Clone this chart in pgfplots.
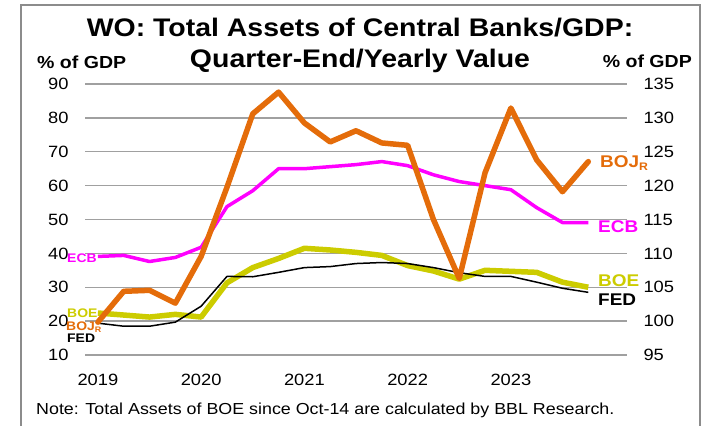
\documentclass[border=0pt]{standalone}
\usepackage{pgfplots}
\usepackage{pgfplotstable}
\pgfplotsset{compat=1.18}
\usepackage{fontspec}
\setmainfont{Liberation Sans}[FakeStretch=1.12]
\definecolor{bojc}{RGB}{228,108,10}
\definecolor{ecbc}{RGB}{255,0,255}
\definecolor{boec}{RGB}{204,204,0}
\definecolor{gridc}{RGB}{160,160,160}
\definecolor{framec}{RGB}{140,140,140}

\pgfplotstableread{
x boe fed ecb
0 22.4 19.4 39.1
1 21.8 18.5 39.4
2 21.2 18.5 37.6
3 22.0 19.7 38.8
4 21.2 24.4 41.8
5 31.3 33.2 53.8
6 35.8 33.1 58.5
7 38.5 34.4 65.0
8 41.5 35.8 65.0
9 41.0 36.1 65.6
10 40.3 37.0 66.2
11 39.4 37.3 67.1
12 36.4 37.0 65.9
13 34.8 35.8 63.2
14 32.4 34.3 61.2
15 35.0 33.2 60.0
16 34.7 33.2 58.8
17 34.4 31.5 53.5
18 31.5 29.7 49.1
19 30.0 28.5 49.1
}\tabL

\pgfplotstableread{
x boj
0 99.85
1 104.4
2 104.55
3 102.65
4 109.55
5 119.75
6 130.6
7 133.8
8 129.25
9 126.45
10 128.1
11 126.3
12 125.95
13 115.0
14 106.3
15 121.9
16 131.45
17 123.8
18 119.1
19 123.55
}\tabR

\newcommand{\tickfont}{\fontsize{16.4}{18}\selectfont}

\begin{document}
\begin{tikzpicture}[x=1bp,y=1bp]
\path[use as bounding box] (0,0) rectangle (706,425);
\begin{scope}
\clip (0,0) rectangle (706,425);
\draw[framec, line width=1.5bp] (21,-10) -- (21,420) -- (700,420) -- (700,-10);
\end{scope}

\pgfplotsset{
  common/.style={
    at={(85bp,70bp)}, anchor=south west,
    scale only axis, width=542bp, height=271bp,
    xmin=-0.5, xmax=20.5,
    axis line style={draw=none},
    major tick length=0pt,
    tick style={draw=none},
    /pgf/number format/assume math mode=true,
    clip=false,
  }
}

\begin{axis}[common,
  ymin=10, ymax=90, ytick={10,20,...,90},
  xtick={0,4,8,12,16}, xticklabels={2019,2020,2021,2022,2023},
  ymajorgrids, major grid style={gridc, line width=1.3bp},
  yticklabel style={font=\tickfont, anchor=east, xshift=-13bp},
  xticklabel style={font=\tickfont, yshift=-16bp},
]
\addplot[boec, line width=5.5bp, line join=round] table[x=x,y=boe]{\tabL};
\addplot[black, line width=1.5bp, line join=round] table[x=x,y=fed]{\tabL};
\addplot[ecbc, line width=3.5bp, line join=round] table[x=x,y=ecb]{\tabL};
\end{axis}

\begin{axis}[common,
  ymin=95, ymax=135, ytick={95,100,...,135},
  xtick=\empty,
  ytick pos=right, yticklabel pos=right,
  yticklabel style={font=\tickfont, anchor=west, xshift=13bp},
]
\addplot[bojc, line width=5.5bp, line join=round, line cap=round] table[x=x,y=boj]{\tabR};
\end{axis}

% titles
\node[anchor=base, font=\fontsize{25.5}{30}\selectfont\bfseries] at (360,388) {WO: Total Assets of Central Banks/GDP:};
\node[anchor=base, font=\fontsize{25.5}{30}\selectfont\bfseries] at (360,358) {Quarter-End/Yearly Value};
\node[anchor=base west, inner sep=0pt, font=\fontsize{17.5}{19}\selectfont\bfseries] at (37,357) {\% of GDP};
\node[anchor=base east, inner sep=0pt, font=\fontsize{17.5}{19}\selectfont\bfseries] at (692,358) {\% of GDP};

% right series labels
\node[anchor=base west, inner sep=0pt, text=bojc, font=\fontsize{17}{19}\selectfont\bfseries] at (600,258) {BOJ\raisebox{-3bp}{\fontsize{11}{12}\selectfont R}};
\node[anchor=base west, inner sep=0pt, text=ecbc, font=\fontsize{17}{19}\selectfont\bfseries] at (598,193) {ECB};
\node[anchor=base west, inner sep=0pt, text=boec, font=\fontsize{17}{19}\selectfont\bfseries] at (598,139) {BOE};
\node[anchor=base west, inner sep=0pt, text=black, font=\fontsize{17}{19}\selectfont\bfseries] at (598,120) {FED};

% left series labels
\node[anchor=base west, inner sep=0pt, text=ecbc, font=\fontsize{12.5}{14}\selectfont\bfseries] at (67,163) {ECB};
\node[anchor=base west, inner sep=0pt, text=boec, font=\fontsize{12.5}{14}\selectfont\bfseries] at (67,108) {BOE};
\node[anchor=base west, inner sep=0pt, text=bojc, font=\fontsize{12.5}{14}\selectfont\bfseries] at (66,95) {BOJ\raisebox{-2.5bp}{\fontsize{8}{9}\selectfont R}};
\node[anchor=base west, inner sep=0pt, text=black, font=\fontsize{12.5}{14}\selectfont\bfseries] at (67,83) {FED};

% note
\node[anchor=base west, inner sep=0pt, font=\fontsize{16}{18}\selectfont] at (36,11) {Note: Total Assets of BOE since Oct-14 are calculated by BBL Research.};
\end{tikzpicture}
\end{document}
